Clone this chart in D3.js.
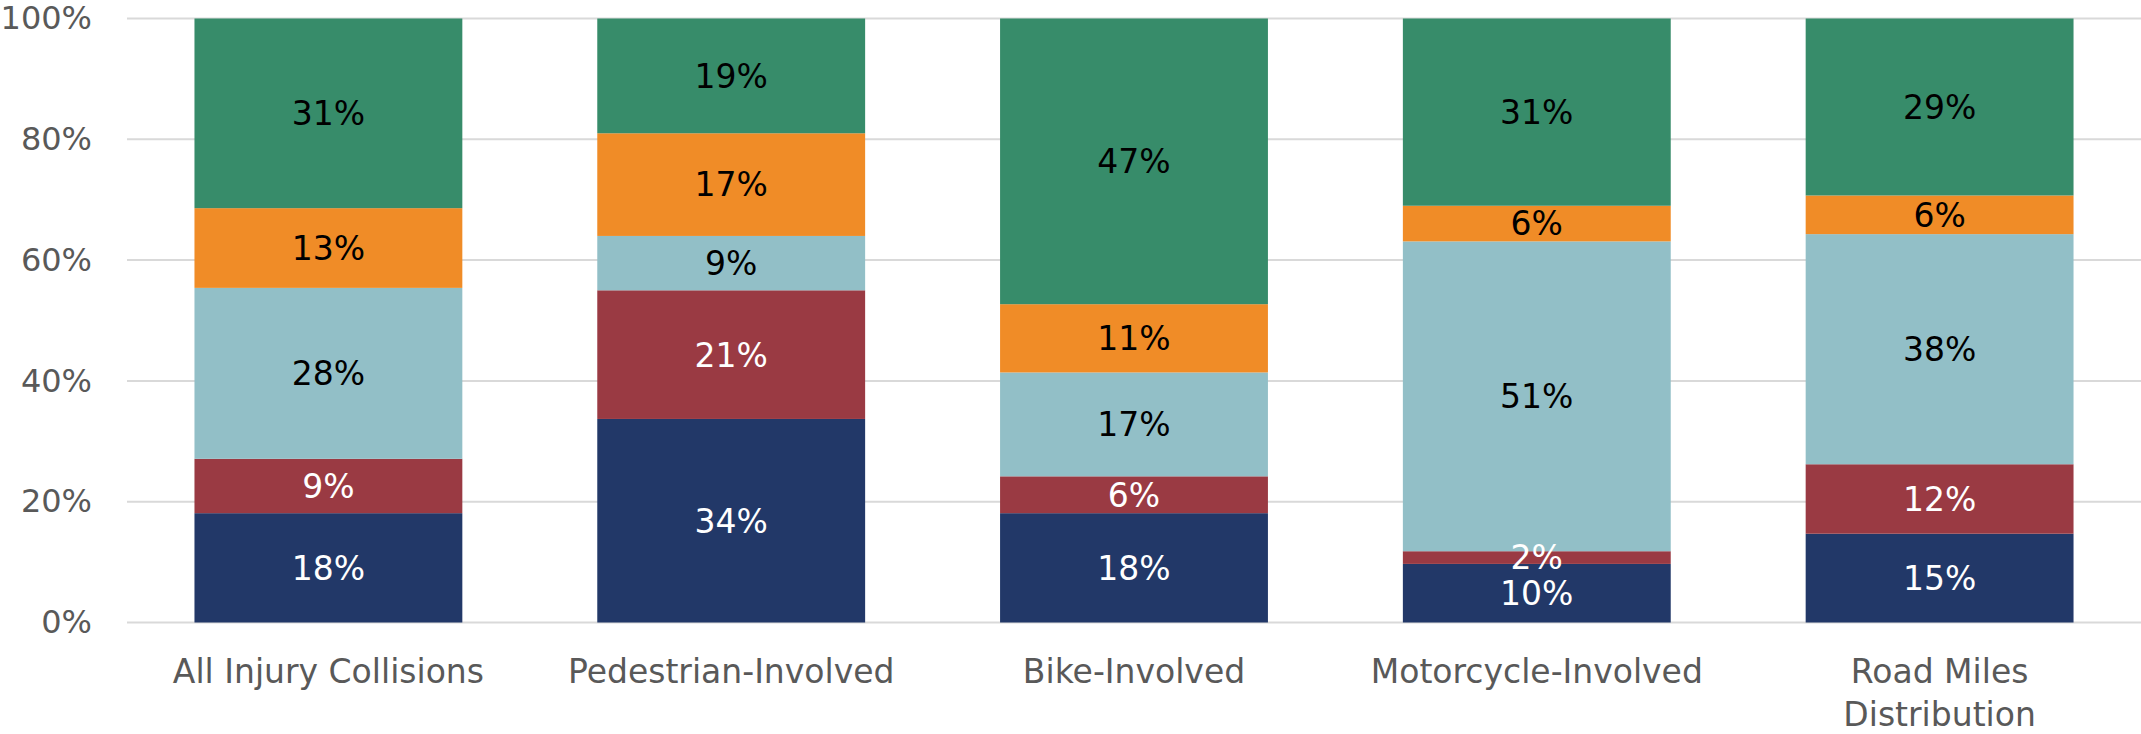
<!DOCTYPE html>
<html>
<head>
<meta charset="utf-8">
<script src="https://cdn.jsdelivr.net/npm/d3@7"></script>
<style>
  html, body { margin: 0; padding: 0; background: #fff; }
  svg text { font-family: "DejaVu Sans", sans-serif; }
</style>
</head>
<body>
<svg id="chart" width="2141" height="734"></svg>
<script>
// categories along the x axis, and the label lines under each bar
let categories = ["All Injury Collisions", "Pedestrian-Involved", "Bike-Involved", "Motorcycle-Involved", "Road Miles Distribution"];
let categoryLines = [["All Injury Collisions"], ["Pedestrian-Involved"], ["Bike-Involved"], ["Motorcycle-Involved"], ["Road Miles", "Distribution"]];

// stacked segments, bottom to top (share of each bar, in %)
let series = ["Series 1", "Series 2", "Series 3", "Series 4", "Series 5"];
let series1 = [18.1, 33.7, 18.1, 9.7, 14.7];
let series2 = [9.0, 21.3, 6.1, 2.1, 11.5];
let series3 = [28.3, 9.0, 17.2, 51.3, 38.1];
let series4 = [13.2, 17.0, 11.3, 5.9, 6.4];
let series5 = [31.4, 19.0, 47.3, 31.0, 29.3];

let yTicks = [0, 20, 40, 60, 80, 100];

let colors = ["#223868", "#9a3a43", "#92bfc7", "#f08c27", "#378c6a"];
let labelColors = ["#ffffff", "#ffffff", "#000000", "#000000", "#000000"];

let rows = categories.map((c, i) => ({
	category: c,
	"Series 1": series1[i],
	"Series 2": series2[i],
	"Series 3": series3[i],
	"Series 4": series4[i],
	"Series 5": series5[i]
}));

let svg = d3.select("#chart");
let margin = {top: 18.5, right: 0, bottom: 111.5, left: 127};
let width = +svg.attr("width") - margin.left - margin.right;
let height = +svg.attr("height") - margin.top - margin.bottom;

let g = svg.append("g").attr("transform", "translate(" + margin.left + "," + margin.top + ")");

let x = d3.scaleBand().domain(categories).range([0, width]).paddingInner(0.335).paddingOuter(0.1675);
let y = d3.scaleLinear().domain([0, 100]).range([height, 0]);

// gridlines
g.selectAll(".grid").data(yTicks).enter()
	.append("line").attr("class", "grid")
	.attr("x1", 0).attr("x2", width)
	.attr("y1", d => y(d)).attr("y2", d => y(d))
	.attr("stroke", "#d9d9d9").attr("stroke-width", 2);

// y axis labels
let yAxis = g.append("g").call(d3.axisLeft(y).tickValues(yTicks).tickFormat(d => d + "%").tickSize(0).tickPadding(35));
yAxis.select(".domain").remove();
yAxis.selectAll("text").attr("font-size", 32).attr("fill", "#595959").attr("font-family", "DejaVu Sans");

let stack = d3.stack().keys(series);
let stacked = stack(rows);

let layers = g.selectAll(".layer").data(stacked).enter()
	.append("g").attr("class", "layer")
	.attr("fill", (d, i) => colors[i]);

layers.selectAll("rect").data(d => d).enter()
	.append("rect")
	.attr("x", d => x(d.data.category))
	.attr("width", x.bandwidth())
	.attr("y", d => y(d[1]))
	.attr("height", d => y(d[0]) - y(d[1]));

// segment labels
stacked.forEach((layer, i) => {
	g.selectAll(".lbl" + i).data(layer).enter()
		.append("text").attr("class", "lbl" + i)
		.attr("x", d => x(d.data.category) + x.bandwidth() / 2)
		.attr("y", d => y((d[0] + d[1]) / 2))
		.attr("dy", "0.36em")
		.attr("text-anchor", "middle")
		.attr("font-size", 33)
		.attr("fill", labelColors[i])
		.text(d => Math.round(d[1] - d[0]) + "%");
});

// category labels
let xl = g.selectAll(".xlabel").data(categories).enter()
	.append("text").attr("class", "xlabel")
	.attr("text-anchor", "middle")
	.attr("font-size", 33)
	.attr("fill", "#595959")
	.attr("transform", d => "translate(" + (x(d) + x.bandwidth() / 2) + "," + (height + 60) + ")");

xl.selectAll("tspan").data((d, i) => categoryLines[i]).enter()
	.append("tspan")
	.attr("x", 0)
	.attr("y", (d, i) => i * 43)
	.text(d => d);
</script>
</body>
</html>
